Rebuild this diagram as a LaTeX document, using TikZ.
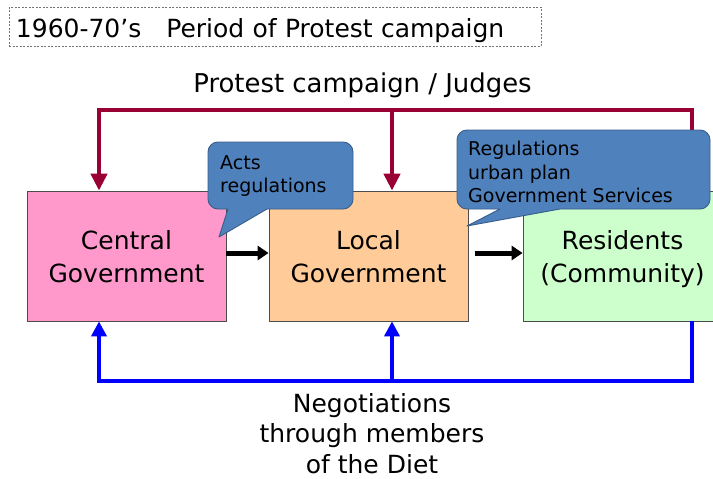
\documentclass[tikz,border=0pt]{standalone}
\usepackage{fontspec}
\setmainfont{DejaVu Sans}
\usetikzlibrary{arrows.meta}
\definecolor{protestred}{RGB}{153,0,51}
\definecolor{negblue}{RGB}{0,0,255}
\definecolor{callfill}{RGB}{79,129,189}
\definecolor{calldraw}{RGB}{56,93,138}
\definecolor{centralpink}{RGB}{255,153,204}
\definecolor{localorange}{RGB}{255,204,153}
\definecolor{resgreen}{RGB}{204,255,204}
\newcommand\bxs{\rule[-6pt]{0pt}{32pt}}
\begin{document}
\begin{tikzpicture}[x=1pt,y=-1pt,
  govbox/.style={draw=black!70, line width=0.8pt, minimum width=199pt, minimum height=130pt,
    inner sep=0pt, align=center, font=\fontsize{25}{31}\selectfont},
  titlebox/.style={draw=black!55, line width=0.9pt, dash pattern=on 2pt off 1.5pt,
    minimum width=532pt, minimum height=39pt, inner xsep=6.5pt, inner ysep=0pt,
    text width=519pt, align=left, text height=24pt, text depth=3pt,
    font=\fontsize{25}{31}\selectfont},
  bigtext/.style={font=\fontsize{25}{30.5}\selectfont, inner sep=0pt, align=center},
  calltext/.style={font=\fontsize{19}{23.3}\selectfont, inner sep=0pt, align=left},
  redline/.style={draw=protestred, line width=4.5pt},
  redtip/.style={-{Triangle[width=16pt,length=17pt]}},
  blueline/.style={draw=negblue, line width=4.5pt},
  bluetip/.style={-{Triangle[width=15pt,length=15pt]}},
  blackarrow/.style={draw=black, line width=5pt, -{Triangle[width=14pt,length=11pt]}},
  callout/.style={fill=callfill, draw=calldraw, line width=0.9pt, line join=round}
]
\useasboundingbox (0,0) rectangle (713,479);

% title
\node[titlebox, anchor=north west] (T) at (9,7) {1960-70’s\hspace{25pt}Period of Protest campaign};

% top label
\node[bigtext, font=\fontsize{25.9}{31}\selectfont, anchor=base] (PJ) at (362.5,92) {Protest campaign / Judges};

% boxes
\node[govbox, fill=centralpink] (C) at (126.5,256) {\bxs Central\\\bxs Government};
\node[govbox, fill=localorange] (L) at (368.5,256) {\bxs Local\\\bxs Government};
\node[govbox, fill=resgreen] (R) at (622.5,256) {\bxs Residents\\\bxs (Community)};

% red protest lines
\coordinate (rl) at (99,110);
\coordinate (rm) at (392,110);
\coordinate (rr) at (692,110);
\draw[redline, redtip] (R.north -| rr) -- (rr) -- (rl) -- (C.north -| rl);
\draw[redline, redtip] (rm) -- (L.north -| rm);

% blue negotiation lines
\coordinate (bl) at (99,381);
\coordinate (bm) at (392,381);
\coordinate (br) at (692,381);
\draw[blueline, bluetip] (R.south -| br) -- (br) -- (bl) -- (C.south -| bl);
\draw[blueline, bluetip] (bm) -- (L.south -| bm);

% black arrows
\draw[blackarrow] ([yshift=3pt]C.east) -- ([yshift=3pt]L.west);
\draw[blackarrow] ([xshift=7pt,yshift=3pt]L.east) -- ([yshift=3pt]R.west);

% bottom label
\node[bigtext, anchor=north] (N) at (372,393) {Negotiations\\through members\\of the Diet};

% callout 1
\draw[callout] (228,209) -- (219,237) -- (267,209) [rounded corners=10pt] -- (353,209)
  -- (353,142) -- (208,142) -- (208,209) [sharp corners] -- (228,209) -- cycle;
\node[calltext, anchor=north west] (A1) at (220,155) {Acts\\regulations};

% callout 2
\draw[callout] (500,209) -- (467,226) -- (560,209) [rounded corners=10pt] -- (710,209)
  -- (710,130) -- (457,130) -- (457,209) [sharp corners] -- (500,209) -- cycle;
\node[calltext, anchor=north west] (A2) at (468,141.3) {Regulations\\urban plan\\Government Services};
\end{tikzpicture}
\end{document}
